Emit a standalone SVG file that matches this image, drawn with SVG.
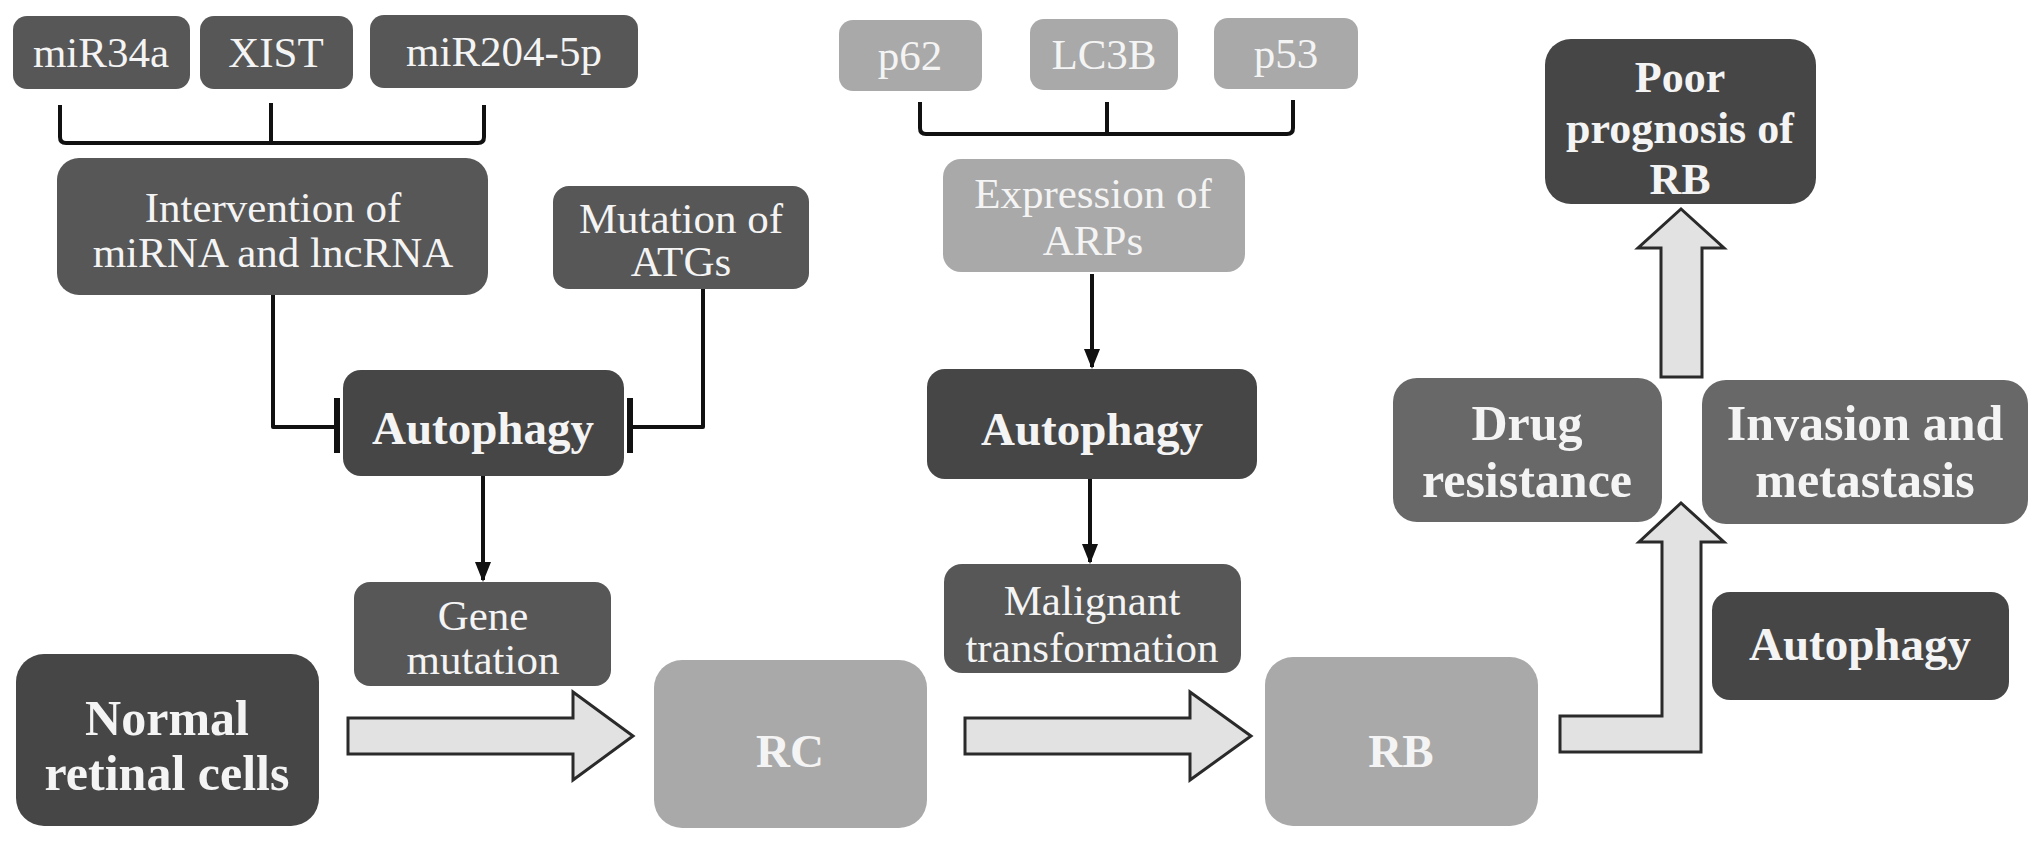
<svg xmlns="http://www.w3.org/2000/svg" width="2031" height="841" viewBox="0 0 2031 841">
<defs>
<style>
.dark{fill:#464646}
.mid{fill:#575757}
.mid2{fill:#686868}
.light{fill:#a9a9a9}
text{font-family:"Liberation Serif","Times New Roman",serif;fill:#f4f4f4;text-anchor:middle}
.n{font-size:43px}
.b{font-size:47px;font-weight:bold}
.bp{font-size:44px;font-weight:bold}
.bl{font-size:50px;font-weight:bold}
.line{fill:none;stroke:#111;stroke-width:4;stroke-linejoin:round}
.bar{stroke:#111;stroke-width:6}
.block{fill:#e2e2e2;stroke:#2a2a2a;stroke-width:3;stroke-linejoin:miter}
</style>
<marker id="arr" viewBox="0 0 20 20" refX="18" refY="10" markerWidth="20" markerHeight="20" orient="auto" markerUnits="userSpaceOnUse">
<path d="M0,2 L20,10 L0,18 Z" fill="#111"/>
</marker>
</defs>
<rect width="2031" height="841" fill="#ffffff"/>

<g id="miR34a"><rect class="mid" x="13" y="16" width="177" height="73" rx="14"/><text class="n" x="101" y="67">miR34a</text></g>
<g id="XIST"><rect class="mid" x="200" y="16" width="153" height="73" rx="14"/><text class="n" x="276" y="67">XIST</text></g>
<g id="miR204"><rect class="mid" x="370" y="15" width="268" height="73" rx="14"/><text class="n" x="504" y="66">miR204-5p</text></g>
<g id="intervention"><rect class="mid" x="57" y="158" width="431" height="137" rx="22"/><text class="n" x="273" y="222">Intervention of</text><text class="n" x="273" y="267">miRNA and lncRNA</text></g>
<g id="mutation"><rect class="mid" x="553" y="186" width="256" height="103" rx="16"/><text class="n" x="681" y="233">Mutation of</text><text class="n" x="681" y="276">ATGs</text></g>
<g id="autophagy1"><rect class="dark" x="343" y="370" width="281" height="106" rx="18"/><text class="b" x="483" y="444">Autophagy</text></g>
<g id="gene"><rect class="mid" x="354" y="582" width="257" height="104" rx="16"/><text class="n" x="483" y="630">Gene</text><text class="n" x="483" y="674">mutation</text></g>
<g id="normal"><rect class="dark" x="16" y="654" width="303" height="172" rx="28"/><text class="bl" x="167" y="735">Normal</text><text class="bl" x="167" y="790">retinal cells</text></g>
<g id="RC"><rect class="light" x="654" y="660" width="273" height="168" rx="28"/><text class="b" x="790" y="767">RC</text></g>
<g id="p62"><rect class="light" x="839" y="20" width="143" height="71" rx="14"/><text class="n" x="910" y="70">p62</text></g>
<g id="LC3B"><rect class="light" x="1030" y="19" width="148" height="71" rx="14"/><text class="n" x="1104" y="69">LC3B</text></g>
<g id="p53"><rect class="light" x="1214" y="18" width="144" height="71" rx="14"/><text class="n" x="1286" y="68">p53</text></g>
<g id="expression"><rect class="light" x="943" y="159" width="302" height="113" rx="18"/><text class="n" x="1093" y="208">Expression of</text><text class="n" x="1093" y="255">ARPs</text></g>
<g id="autophagy2"><rect class="dark" x="927" y="369" width="330" height="110" rx="18"/><text class="b" x="1092" y="445">Autophagy</text></g>
<g id="malignant"><rect class="mid" x="944" y="564" width="297" height="109" rx="18"/><text class="n" x="1092" y="615">Malignant</text><text class="n" x="1092" y="662">transformation</text></g>
<g id="RB"><rect class="light" x="1265" y="657" width="273" height="169" rx="28"/><text class="b" x="1401" y="767">RB</text></g>
<g id="drug"><rect class="mid2" x="1393" y="378" width="269" height="144" rx="24"/><text class="bl" x="1527" y="440">Drug</text><text class="bl" x="1527" y="497">resistance</text></g>
<g id="invasion"><rect class="mid2" x="1702" y="380" width="326" height="144" rx="24"/><text class="bl" x="1865" y="440">Invasion and</text><text class="bl" x="1865" y="497">metastasis</text></g>
<g id="autophagy3"><rect class="dark" x="1712" y="592" width="297" height="108" rx="18"/><text class="b" x="1860" y="660">Autophagy</text></g>
<g id="poor"><rect class="dark" x="1545" y="39" width="271" height="165" rx="26"/><text class="bp" x="1680" y="92">Poor</text><text class="bp" x="1680" y="143">prognosis of</text><text class="bp" x="1680" y="194">RB</text></g>

<g id="connectors">
<path class="line" d="M60,105 V137 Q60,143 66,143 H478 Q484,143 484,137 V105 M271,103 V143"/>
<path class="line" d="M920,102 V128 Q920,134 926,134 H1287 Q1293,134 1293,128 V100 M1107,102 V134"/>
<path class="line" d="M273,295 V427 H337"/>
<line class="bar" x1="337" y1="398" x2="337" y2="453"/>
<path class="line" d="M703,289 V427 H630"/>
<line class="bar" x1="630" y1="398" x2="630" y2="453"/>
<line class="line" x1="483" y1="476" x2="483" y2="580" marker-end="url(#arr)"/>
<line class="line" x1="1092" y1="274" x2="1092" y2="367" marker-end="url(#arr)"/>
<line class="line" x1="1090" y1="479" x2="1090" y2="562" marker-end="url(#arr)"/>
<path class="block" d="M348,718 H573 V692 L633,736 L573,780 V754 H348 Z"/>
<path class="block" d="M965,718 H1190 V692 L1251,736 L1190,780 V754 H965 Z"/>
<path class="block" d="M1560,716 H1662 V542 H1639 L1681,503 L1724,542 H1701 V752 H1560 Z"/>
<path class="block" d="M1661,377 V248 H1638 L1681,209 L1724,248 H1702 V377 Z"/>
</g>
</svg>
